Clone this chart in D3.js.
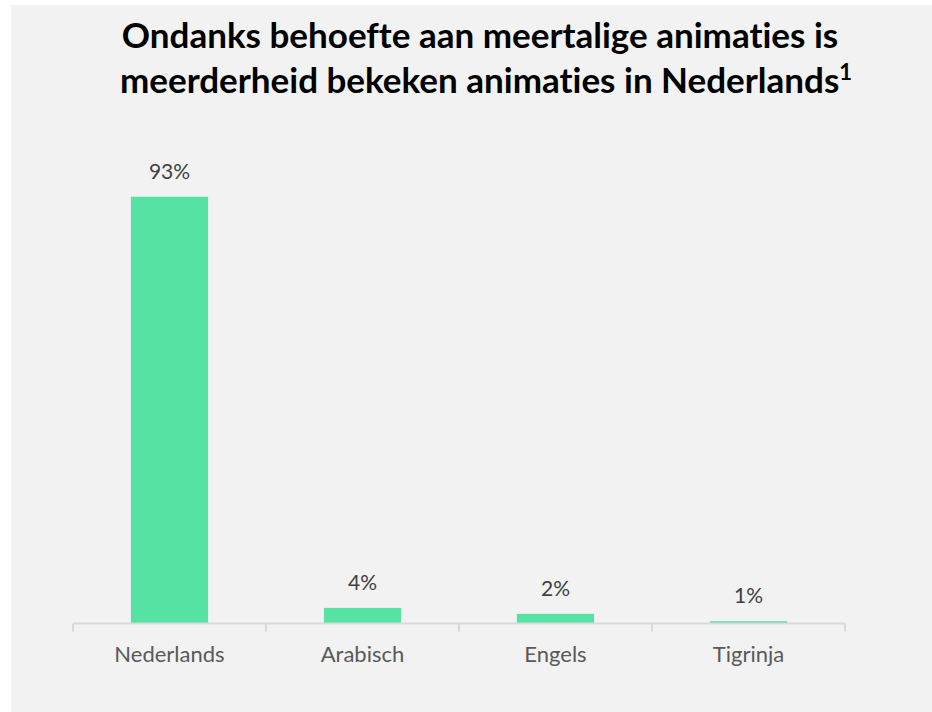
<!DOCTYPE html>
<html>
<head>
<meta charset="utf-8">
<script src="https://cdn.jsdelivr.net/npm/d3@7"></script>
<style>
  body { margin: 0; background: #fff; }
  svg { display: block; }
  text { font-variant-ligatures: none; font-feature-settings: "liga" 0, "clig" 0; }
</style>
</head>
<body>
<div id="chart"></div>
<script>
// Data
const categories = ['Nederlands', 'Arabisch', 'Engels', 'Tigrinja'];
const shares = [93, 3.4, 2.1, 0.5];
const valueLabels = ['93%', '4%', '2%', '1%'];
const titleLines = ['Ondanks behoefte aan meertalige animaties is', 'meerderheid bekeken animaties in Nederlands'];

const width = 932;
const height = 712;
const font = 'Lato, "Open Sans", sans-serif';

const svg = d3.select('#chart')
    .append('svg')
    .attr('width', width)
    .attr('height', height);

// Panel background
svg.append('rect')
    .attr('x', 11)
    .attr('y', 5)
    .attr('width', width - 11)
    .attr('height', height - 5)
    .attr('fill', '#f2f2f2');

// Title
const title = svg.append('text')
    .attr('text-anchor', 'middle')
    .attr('font-family', font)
    .attr('font-weight', 'bold')
    .attr('font-size', '35px')
    .attr('fill', '#000');

title.append('tspan')
    .attr('x', 480)
    .attr('y', 48)
    .text(titleLines[0]);

title.append('tspan')
    .attr('x', 486)
    .attr('y', 93)
    .text(titleLines[1]);
title.append('tspan')
    .attr('dy', -13)
    .attr('font-size', '22px')
    .text('1');

// Scales
const x = d3.scaleBand()
    .domain(categories)
    .range([73, 845])
    .paddingInner(0.6)
    .paddingOuter(0.3);

const y = d3.scaleLinear()
    .domain([0, 100])
    .range([623.5, 164.6]);

// Bars
svg.append('g')
    .selectAll('rect')
    .data(categories)
    .enter()
    .append('rect')
    .attr('x', d => x(d))
    .attr('y', (d, i) => y(shares[i]))
    .attr('width', x.bandwidth())
    .attr('height', (d, i) => y(0) - y(shares[i]))
    .attr('fill', '#55e2a2');

// Axis with category-boundary ticks
const axisG = svg.append('g')
    .attr('transform', `translate(0,${y(0)})`);

axisG.append('line')
    .attr('x1', 73)
    .attr('x2', 845)
    .attr('stroke', '#d9d9d9')
    .attr('stroke-width', 2);

const boundaries = categories.map(d => x(d) - x.step() * x.paddingOuter())
    .concat([845]);

axisG.selectAll('line.tick')
    .data(boundaries)
    .enter()
    .append('line')
    .attr('class', 'tick')
    .attr('x1', d => d)
    .attr('x2', d => d)
    .attr('y1', 0)
    .attr('y2', 8)
    .attr('stroke', '#d9d9d9')
    .attr('stroke-width', 2);

// Category labels
svg.append('g')
    .selectAll('text')
    .data(categories)
    .enter()
    .append('text')
    .attr('x', d => x(d) + x.bandwidth() / 2)
    .attr('y', 662)
    .attr('text-anchor', 'middle')
    .attr('font-family', font)
    .attr('font-size', '22px')
    .attr('fill', '#595959')
    .text(d => d);

// Value labels
svg.append('g')
    .selectAll('text')
    .data(categories)
    .enter()
    .append('text')
    .attr('x', d => x(d) + x.bandwidth() / 2)
    .attr('y', (d, i) => y(shares[i]) - 18)
    .attr('text-anchor', 'middle')
    .attr('font-family', font)
    .attr('font-size', '21px')
    .attr('fill', '#404040')
    .text((d, i) => valueLabels[i]);
</script>
</body>
</html>
